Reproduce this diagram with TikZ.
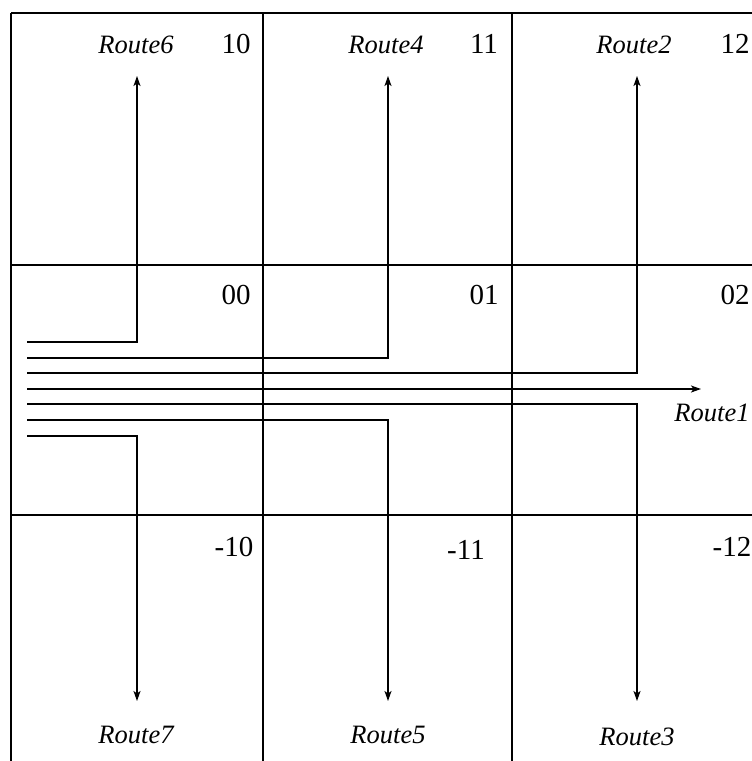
\documentclass[tikz,border=0pt]{standalone}
\usepackage{fontspec}
\setmainfont{Liberation Serif}
\usetikzlibrary{arrows.meta}
\begin{document}
\begin{tikzpicture}[x=1pt,y=-1pt,
  grid/.style={line width=1.6pt},
  route/.style={line width=1.3pt,-{Stealth[length=10pt,width=7pt,inset=2.5pt]}},
  rlabel/.style={font=\fontsize{26.5}{29}\selectfont\itshape,inner sep=0pt},
  num/.style={font=\fontsize{29}{32}\selectfont,inner sep=0pt}]
\useasboundingbox (0,0) rectangle (752,761);
% grid
\draw[grid] (11,13) -- (752,13);
\draw[grid] (11,265) -- (752,265);
\draw[grid] (11,515) -- (752,515);
\draw[grid] (11,13) -- (11,761);
\draw[grid] (263,13) -- (263,761);
\draw[grid] (512,13) -- (512,761);
% cell numbers
\node[num] (n10) at (236,44) {10};
\node[num] (n11) at (484,44) {11};
\node[num] (n12) at (735,44) {12};
\node[num] (n00) at (236,295) {00};
\node[num] (n01) at (484,295) {01};
\node[num] (n02) at (735,295) {02};
\node[num] (nm10) at (234,547) {-10};
\node[num] (nm11) at (466,550) {-11};
\node[num] (nm12) at (732,547) {-12};
% route starts and ends
\coordinate (s6) at (27,342);
\coordinate (s4) at (27,358);
\coordinate (s2) at (27,373);
\coordinate (s1) at (27,389);
\coordinate (s3) at (27,404);
\coordinate (s5) at (27,420);
\coordinate (s7) at (27,436);
\coordinate (e6) at (137,76);
\coordinate (e4) at (388,76);
\coordinate (e2) at (637,76);
\coordinate (e1) at (701,389);
\coordinate (e3) at (637,701);
\coordinate (e5) at (388,701);
\coordinate (e7) at (137,701);
\draw[route] (s6) -| (e6);
\draw[route] (s4) -| (e4);
\draw[route] (s2) -| (e2);
\draw[route] (s1) -- (e1);
\draw[route] (s3) -| (e3);
\draw[route] (s5) -| (e5);
\draw[route] (s7) -| (e7);
% route labels
\node[rlabel] (r6) at (136,45) {Route6};
\node[rlabel] (r4) at (386,45) {Route4};
\node[rlabel] (r2) at (634,45) {Route2};
\node[rlabel] (r1) at (712,413) {Route1};
\node[rlabel] (r7) at (136,735) {Route7};
\node[rlabel] (r5) at (388,735) {Route5};
\node[rlabel] (r3) at (637,737) {Route3};
\end{tikzpicture}
\end{document}
